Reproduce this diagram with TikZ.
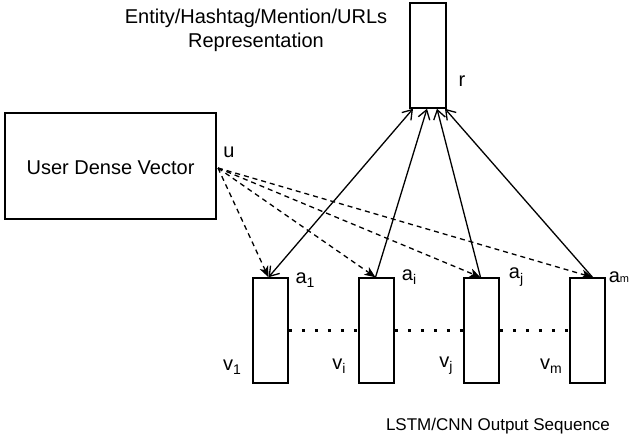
\documentclass[tikz,border=0pt]{standalone}
\usepackage{fontspec}
\setmainfont{Liberation Sans}
\usetikzlibrary{arrows.meta}
\newcommand{\lowsub}[1]{\raisebox{-0.4ex}{\fontsize{14}{14}\selectfont #1}}
\begin{document}
\begin{tikzpicture}[x=1pt,y=-1pt,
  every node/.style={font=\fontsize{20}{24}\selectfont, inner sep=0pt},
  vec/.style={draw, line width=1.5pt, minimum width=35pt, minimum height=105pt},
  lbl/.style={anchor=center},
  att/.style={line width=1.3pt, dash pattern=on 5pt off 4pt, -{Stealth[length=11pt,width=9pt,inset=3pt]}},
  agg/.style={line width=1.3pt, -{Straight Barb[length=9pt,width=12pt]}},
  gap/.style={line width=3.4pt, dash pattern=on 3.5pt off 9.5pt}]
\useasboundingbox (0,0) rectangle (632,442);

% top representation vector
\node[draw, line width=1.5pt, minimum width=36pt, minimum height=105pt] (r) at (428,55.5) {};
\node[lbl] (rl) at (462,81) {r};
\node[align=center] (title) at (256,30) {Entity/Hashtag/Mention/URLs\\Representation};

% user vector
\node[draw, line width=1.5pt, minimum width=211pt, minimum height=106pt] (user) at (110.5,166) {};
\node (usertxt) at (110.5,168) {User Dense Vector};
\node[lbl] (ul) at (229,152) {u};
\coordinate (uo) at (218,168);

% sequence of output vectors
\node[vec] (v1) at (270.5,330.5) {};
\node[vec] (vi) at (376.5,330.5) {};
\node[vec] (vj) at (481.5,330.5) {};
\node[vec] (vm) at (587.5,330.5) {};

\draw[gap] (v1.east) -- (vi.west);
\draw[gap] (vi.east) -- (vj.west);
\draw[gap] (vj.east) -- (vm.west);

\node[lbl] (a1) at (305,280) {a\lowsub{1}};
\node[lbl] (ai) at (409,277) {a\lowsub{i}};
\node[lbl] (aj) at (516,277) {a\lowsub{j}};
\node[lbl] (am) at (619,277) {a{\fontsize{11}{11}\selectfont m}};

\node[lbl] (v1l) at (232,367) {v\lowsub{1}};
\node[lbl] (vil) at (339,366) {v\lowsub{i}};
\node[lbl] (vjl) at (446,366) {v\lowsub{j}};
\node[lbl] (vml) at (551,366) {v\lowsub{m}};

\node[font=\fontsize{17}{20}\selectfont] (seq) at (498,426) {LSTM/CNN Output Sequence};

% attention from the user vector
\draw[att] (uo) -- ([xshift=-2pt]v1.north);
\draw[att] (uo) -- ([xshift=-1pt]vi.north);
\draw[att] (uo) -- ([xshift=-1pt]vj.north);
\draw[att] (uo) -- ([xshift=5pt]vm.north);

% weighted sum into r
\draw[agg, {Straight Barb[length=9pt,width=12pt]}-{Straight Barb[length=9pt,width=12pt]}] ([xshift=-2pt]v1.north) -- ([xshift=-15pt]r.south);
\draw[agg] ([xshift=-1pt]vi.north) -- ([xshift=-1pt]r.south);
\draw[agg] ([xshift=-1pt]vj.north) -- ([xshift=9pt]r.south);
\draw[agg] ([xshift=5pt]vm.north) -- ([xshift=17pt]r.south);
\end{tikzpicture}
\end{document}
